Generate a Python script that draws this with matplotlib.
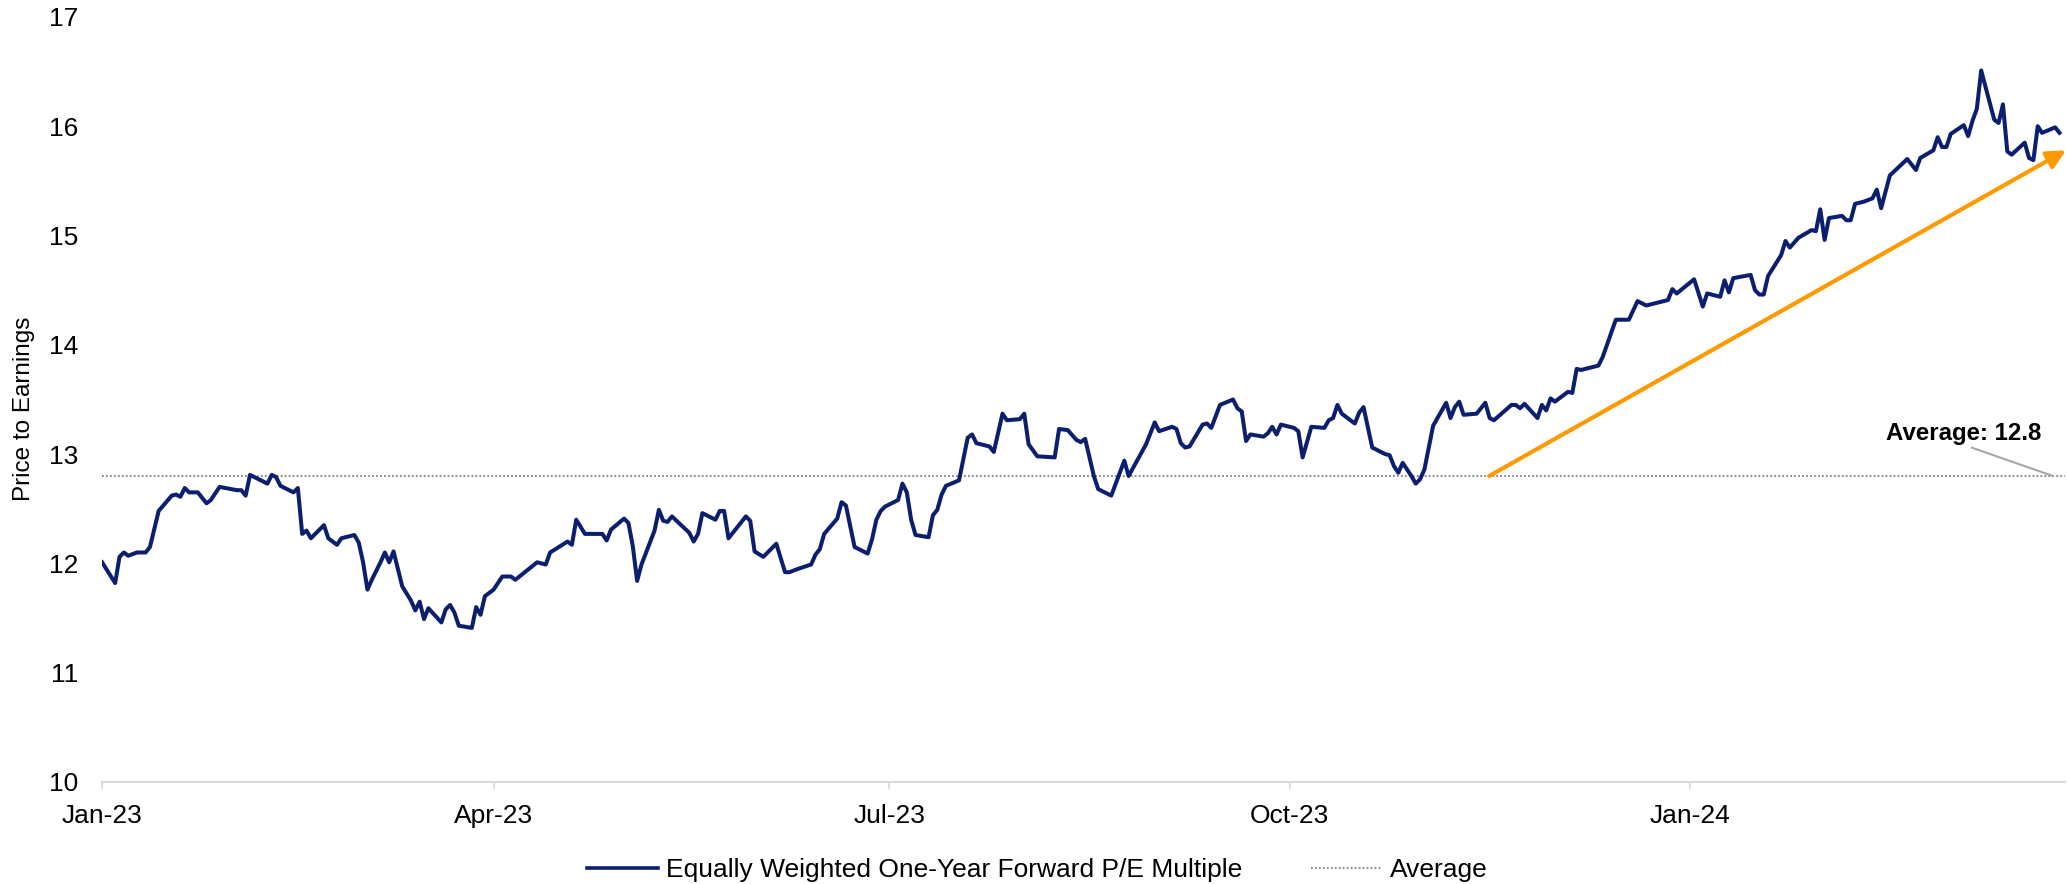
import numpy as np
import pandas as pd
import matplotlib
matplotlib.use("Agg")
import matplotlib.pyplot as plt
import matplotlib.dates as mdates
from matplotlib.lines import Line2D

# === Data: equally weighted one-year forward P/E (days counted from 1 Jan 2023) ===
start = pd.Timestamp("2023-01-01")

days = [
    0, 3, 4, 5, 6, 8, 10, 11, 13, 16,
    17, 18, 19, 20, 22, 24, 25, 27, 31, 32,
    33, 34, 36, 38, 39, 40, 41, 44, 45, 46,
    47, 48, 51, 52, 54, 55, 58, 59, 60, 61,
    62, 64, 65, 66, 67, 69, 71, 72, 73, 74,
    75, 78, 79, 80, 81, 82, 85, 86, 87, 88,
    90, 92, 94, 95, 100, 102, 103, 105, 107, 108,
    109, 111, 115, 116, 117, 120, 121, 122, 123, 124,
    127, 128, 129, 130, 131, 135, 136, 137, 138, 141,
    142, 143, 144, 148, 149, 150, 152, 155, 157, 158,
    160, 163, 164, 165, 166, 169, 170, 171, 173, 176,
    177, 178, 179, 180, 183, 184, 185, 186, 187, 190,
    191, 192, 193, 194, 197, 199, 200, 201, 204, 205,
    207, 208, 211, 212, 213, 215, 219, 220, 222, 224,
    225, 226, 228, 229, 232, 235, 236, 240, 242, 243,
    246, 247, 248, 249, 250, 253, 254, 255, 257, 260,
    261, 262, 263, 264, 267, 268, 269, 270, 271, 274,
    275, 276, 278, 281, 282, 283, 284, 285, 288, 289,
    290, 292, 295, 296, 297, 298, 299, 301, 302, 303,
    304, 305, 306, 309, 310, 311, 312, 313, 316, 317,
    318, 319, 320, 322, 324, 325, 326, 327, 330, 331,
    332, 333, 334, 337, 338, 339, 340, 344, 345, 348,
    351, 353, 355, 360, 361, 362, 366, 368, 369, 372,
    373, 374, 375, 379, 380, 381, 382, 383, 386, 387,
    388, 390, 393, 394, 395, 396, 397, 400, 401, 402,
    403, 405, 407, 408, 409, 411, 415, 417, 418, 421,
    422, 423, 424, 425, 428, 429, 430, 431, 432, 435,
    436, 437, 438, 439, 442, 443, 444, 445, 446, 449,
    450,
]

pe = [
    12.01, 11.82, 12.06, 12.10, 12.07, 12.10, 12.10, 12.15, 12.48, 12.62,
    12.63, 12.61, 12.69, 12.65, 12.65, 12.55, 12.58, 12.70, 12.67, 12.67,
    12.62, 12.81, 12.77, 12.73, 12.81, 12.79, 12.71, 12.65, 12.69, 12.27,
    12.30, 12.23, 12.35, 12.23, 12.17, 12.23, 12.26, 12.19, 12.01, 11.76,
    11.85, 12.01, 12.10, 12.01, 12.11, 11.79, 11.66, 11.57, 11.65, 11.49,
    11.59, 11.46, 11.58, 11.62, 11.55, 11.43, 11.41, 11.60, 11.53, 11.70,
    11.76, 11.88, 11.88, 11.85, 12.01, 11.99, 12.10, 12.15, 12.20, 12.17,
    12.40, 12.27, 12.27, 12.21, 12.31, 12.41, 12.37, 12.16, 11.84, 11.99,
    12.30, 12.49, 12.39, 12.38, 12.43, 12.28, 12.20, 12.27, 12.46, 12.40,
    12.48, 12.48, 12.23, 12.43, 12.39, 12.11, 12.06, 12.18, 11.92, 11.92,
    11.95, 11.99, 12.08, 12.13, 12.27, 12.41, 12.56, 12.53, 12.15, 12.09,
    12.22, 12.40, 12.48, 12.52, 12.58, 12.73, 12.65, 12.40, 12.26, 12.24,
    12.44, 12.49, 12.63, 12.71, 12.76, 13.15, 13.18, 13.10, 13.07, 13.02,
    13.37, 13.31, 13.32, 13.37, 13.09, 12.98, 12.97, 13.23, 13.22, 13.13,
    13.11, 13.14, 12.80, 12.68, 12.62, 12.94, 12.80, 13.09, 13.29, 13.21,
    13.25, 13.23, 13.10, 13.06, 13.07, 13.27, 13.28, 13.24, 13.45, 13.50,
    13.42, 13.39, 13.12, 13.18, 13.16, 13.19, 13.25, 13.18, 13.27, 13.24,
    13.21, 12.97, 13.25, 13.24, 13.31, 13.33, 13.45, 13.37, 13.28, 13.38,
    13.43, 13.06, 13.00, 12.99, 12.89, 12.83, 12.92, 12.80, 12.73, 12.77,
    12.86, 13.06, 13.26, 13.47, 13.33, 13.43, 13.48, 13.36, 13.37, 13.42,
    13.47, 13.33, 13.31, 13.38, 13.45, 13.45, 13.42, 13.46, 13.33, 13.45,
    13.40, 13.51, 13.48, 13.57, 13.56, 13.78, 13.77, 13.81, 13.89, 14.23,
    14.23, 14.40, 14.36, 14.41, 14.51, 14.47, 14.60, 14.35, 14.47, 14.44,
    14.59, 14.48, 14.61, 14.64, 14.50, 14.46, 14.46, 14.63, 14.82, 14.95,
    14.89, 14.98, 15.05, 15.04, 15.24, 14.96, 15.16, 15.18, 15.14, 15.14,
    15.29, 15.31, 15.34, 15.42, 15.25, 15.55, 15.70, 15.60, 15.71, 15.78,
    15.90, 15.81, 15.81, 15.93, 16.01, 15.91, 16.05, 16.16, 16.51, 16.06,
    16.03, 16.20, 15.77, 15.74, 15.85, 15.71, 15.69, 16.00, 15.94, 15.99,
    15.94,
]

average = 12.8
avg_label = "Average: 12.8"

# trend arrow from the average line up to the latest level
trend_days = [318.9, 451.5]
trend_pe = [12.8, 15.78]

assert len(days) == len(pe)

NAVY = "#0c1f6e"
ORANGE = "#ff9900"
GREY = "#808080"

plt.rcParams["font.family"] = ["Liberation Sans", "DejaVu Sans"]


def to_num(d):
    return mdates.date2num(start + pd.Timedelta(days=d))


dates = start + pd.to_timedelta(days, unit="D")

fig = plt.figure(figsize=(20.67, 8.84), dpi=100)
ax = fig.add_axes([0.0494, 0.1154, 0.9497, 0.8654])

ax.plot(dates, pe, color=NAVY, lw=2.9, solid_joinstyle="round", zorder=3)
ax.axhline(average, color=GREY, lw=1.3, linestyle=(0, (1, 1.2)), zorder=2)

ax.set_ylim(10, 17)
ax.set_yticks(range(10, 18))
ax.set_xlim(start, start + pd.Timedelta(days=451.3))
ax.xaxis.set_major_locator(mdates.MonthLocator(bymonth=[1, 4, 7, 10]))
ax.xaxis.set_major_formatter(mdates.DateFormatter("%b-%y"))

for side in ["top", "right", "left"]:
    ax.spines[side].set_visible(False)
ax.spines["bottom"].set_color("#d9d9d9")
ax.spines["bottom"].set_linewidth(1.5)

ax.tick_params(axis="x", color="#d9d9d9", labelcolor="black", length=5,
               width=1.2, pad=10.5, labelsize=19)
ax.tick_params(axis="y", length=0, pad=17, labelsize=19)

fig.text(24 / 2067, 0.537, "Price to Earnings", rotation=90,
         ha="center", va="center", fontsize=17.5)

# average call-out
ax.annotate(avg_label, xy=(to_num(448.5), average),
            xytext=(to_num(428), 13.19), ha="center", va="center",
            fontsize=17.3, fontweight="bold",
            arrowprops=dict(arrowstyle="-", color="#a6a6a6", lw=1.5,
                            relpos=(0.5, 0), shrinkA=0, shrinkB=0))

# trend arrow
ax.annotate("", xy=(to_num(trend_days[1]), trend_pe[1]),
            xytext=(to_num(trend_days[0]), trend_pe[0]),
            arrowprops=dict(arrowstyle="-|>", color=ORANGE, lw=3,
                            mutation_scale=28, shrinkA=0, shrinkB=0),
            annotation_clip=False, zorder=4)

handles = [Line2D([], [], color=NAVY, lw=2.6),
           Line2D([], [], color=GREY, lw=1.3, linestyle=(0, (1, 1.2)))]
labels = ["Equally Weighted One-Year Forward P/E Multiple", "Average"]
fig.legend(handles, labels, loc="center", bbox_to_anchor=(0.502, 0.016),
           ncol=2, frameon=False, fontsize=19, handlelength=2.7,
           handletextpad=0.3, columnspacing=2.6, borderaxespad=0, borderpad=0)

fig.savefig("out.png", dpi=100)
